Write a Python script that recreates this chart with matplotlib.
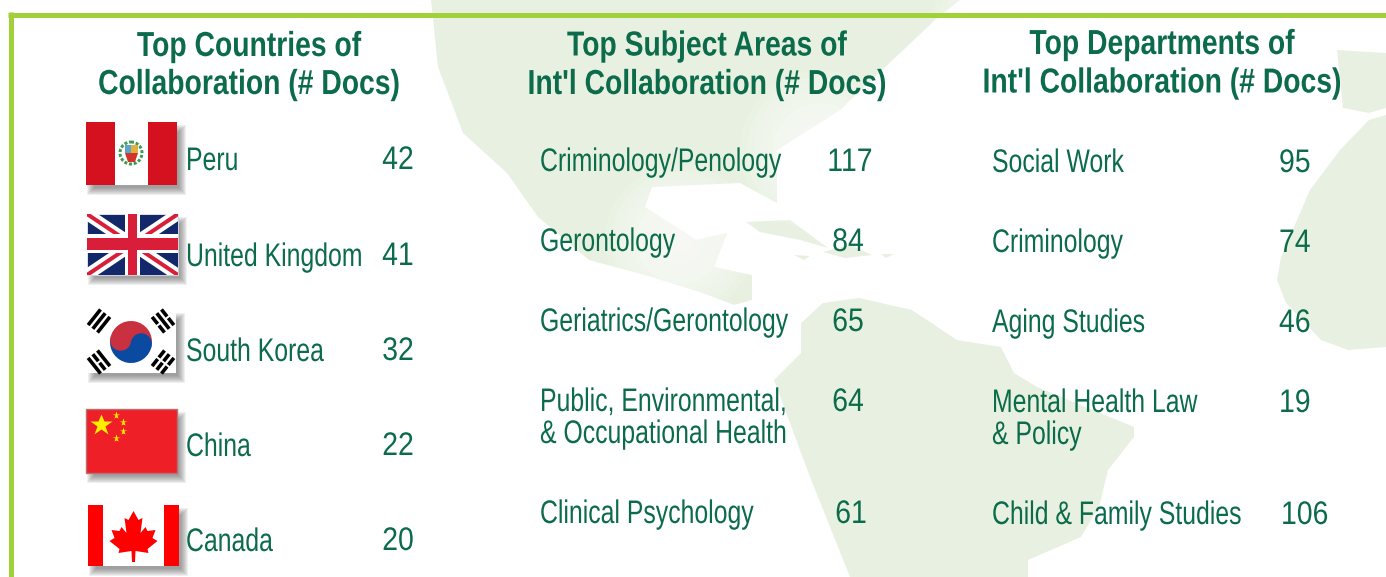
import matplotlib
matplotlib.use('Agg')
import matplotlib.pyplot as plt
from matplotlib.patches import Rectangle, Polygon, Circle, Wedge, Ellipse
from matplotlib.patheffects import AbstractPathEffect
from matplotlib.text import Text
from matplotlib.transforms import Affine2D

# chart text and values
title_1 = ["Top Countries of", "Collaboration (# Docs)"]
title_2 = ["Top Subject Areas of", "Int'l Collaboration (# Docs)"]
title_3 = ["Top Departments of", "Int'l Collaboration (# Docs)"]

countries = ["Peru", "United Kingdom", "South Korea", "China", "Canada"]
country_docs = [42, 41, 32, 22, 20]

subjects = ["Criminology/Penology", "Gerontology", "Geriatrics/Gerontology",
            "Public, Environmental,\n& Occupational Health", "Clinical Psychology"]
subject_docs = [117, 84, 65, 64, 61]

departments = ["Social Work", "Criminology", "Aging Studies",
               "Mental Health Law\n& Policy", "Child & Family Studies"]
department_docs = [95, 74, 46, 19, 106]

GREEN = '#0b6b4a'
LIME = '#a2d039'
PALE = '#e8f1e1'
FONT = 'Liberation Sans'

fig = plt.figure(figsize=(13.86, 5.77), dpi=100)
ax = fig.add_axes([0, 0, 1, 1])
ax.set_xlim(0, 1386)
ax.set_ylim(577, 0)
ax.axis('off')


def px(n):
    # pixels to points at dpi 100
    return n * 0.72


# no condensed font is installed, so squeeze the glyphs sideways about the anchor
class Squeeze(AbstractPathEffect):
    def __init__(self, sx, x0):
        super().__init__()
        self.squash = Affine2D().translate(-x0, 0).scale(sx, 1).translate(x0, 0)

    def draw_path(self, renderer, gc, tpath, affine, rgbFace=None):
        renderer.draw_path(gc, tpath, affine + self.squash, rgbFace)


class NarrowText(Text):
    def __init__(self, x, y, s, sx, **kw):
        super().__init__(x, y, s, **kw)
        self.sx = sx
        self.set_path_effects([Squeeze(sx, x)])

    def get_window_extent(self, renderer=None, dpi=None):
        box = super().get_window_extent(renderer, dpi)
        x0 = self.get_position()[0]
        return box.from_extents(x0 + (box.x0 - x0) * self.sx, box.y0, x0 + (box.x1 - x0) * self.sx, box.y1)


def glow(x, y, r, color='white', steps=12, alpha=0.12, z=0.5):
    for i in range(steps):
        ax.add_patch(Circle((x, y), r * (1 - i / steps), fc=color, ec='none', alpha=alpha, zorder=z))


def shadow(x0, y0, x1, y1):
    for i in range(8):
        ax.add_patch(Rectangle((x0 + 1 + i, y0 + 3 + i), x1 - x0 + 8 - 2 * i, y1 - y0 + 7 - 2 * i,
                               fc='#505050', ec='none', alpha=0.09, zorder=2))


# background map
north_america = [(431, 0), (438, 67), (463, 133), (507, 173), (538, 217), (589, 260), (652, 277),
                 (700, 292), (734, 305), (752, 300), (752, 275), (714, 267), (727, 233), (696, 240),
                 (645, 207), (652, 187), (740, 183), (777, 203), (777, 150), (840, 110), (935, 20),
                 (960, 0)]
south_america = [(801, 323), (823, 303), (859, 298), (912, 310), (957, 340), (1001, 347), (1014, 373),
                 (1037, 387), (1134, 427), (1134, 437), (1108, 470), (1099, 507), (1081, 537),
                 (1028, 560), (1028, 577), (850, 577), (810, 477), (774, 380), (801, 353)]
africa = [(1386, 115), (1369, 120), (1340, 150), (1310, 190), (1281, 257), (1277, 280), (1286, 303),
          (1321, 340), (1348, 350), (1386, 347)]
europe = [(1337, 50), (1386, 53), (1386, 108), (1369, 113), (1343, 108)]
cuba = [(746, 222), (790, 220), (828, 248), (800, 240), (760, 232)]
islands = [[(794, 255), (810, 256), (804, 260)], [(823, 252), (850, 245), (872, 255), (845, 258)],
           [(881, 254), (894, 254), (886, 258)]]
for shape in [north_america, south_america, africa, europe, cuba] + islands:
    ax.add_patch(Polygon(shape, fc=PALE, ec='none', zorder=0))
glow(680, 240, 75)
glow(820, 150, 80)
glow(1000, 30, 70)

# frame
ax.plot([8, 1386], [14.5, 14.5], color=LIME, lw=px(5), solid_capstyle='butt', zorder=1)
ax.plot([10.5, 10.5], [12, 577], color=LIME, lw=px(5), solid_capstyle='butt', zorder=1)


def write(x, y, s, size=23.5, sx=0.76, ha='left', weight='normal'):
    ax.add_artist(NarrowText(x, y, s, sx, color=GREEN, fontsize=size, ha=ha, va='baseline',
                             family=FONT, fontweight=weight, zorder=5))


# titles
for lines, x, ys in [(title_1, 249, (56, 94)), (title_2, 707, (55.5, 94)), (title_3, 1162, (54, 92.5))]:
    for line, y in zip(lines, ys):
        write(x, y, line, size=25, sx=0.815, ha='center', weight='bold')

# columns
for name, val, y in zip(countries, country_docs, [170, 266, 361, 456, 551]):
    write(186, y, name)
    write(398, y - 1, str(val), sx=0.87, ha='center')

for name, val, y, x in zip(subjects, subject_docs, [171, 251, 331, 411, 523], [850, 848, 848, 848, 851]):
    for i, line in enumerate(name.split('\n')):
        write(540, y + i * 32, line)
    write(x, y, str(val), sx=0.87, ha='center')

for name, val, y, x in zip(departments, department_docs, [172, 252, 332, 412, 524], [1279, 1279, 1279, 1279, 1281]):
    for i, line in enumerate(name.split('\n')):
        write(992, y + i * 32, line)
    write(x, y, str(val), sx=0.87)

# Peru flag
shadow(86, 122, 177, 185)
ax.add_patch(Rectangle((86, 122), 91, 63, fc='#d5101f', ec='none', zorder=3))
ax.add_patch(Rectangle((115, 122), 33, 63, fc='white', ec='none', zorder=3))
ax.add_patch(Ellipse((131, 153), 22, 22, fc='none', ec='#3f9a58', lw=px(3), ls=(0, (1, 0.6)), zorder=4))
ax.add_patch(Rectangle((125, 145), 6, 8, fc='#5aa5c8', ec='none', zorder=4))
ax.add_patch(Rectangle((131, 145), 7, 8, fc='#e0b040', ec='none', zorder=4))
ax.add_patch(Polygon([(125, 153), (138, 153), (135, 162), (128, 162)], fc='#d0352a', ec='none', zorder=4))

# UK flag
shadow(87, 214, 178, 275)
uk = Rectangle((87, 214), 91, 61, fc='#12286b', ec='white', lw=0.5, zorder=3)
ax.add_patch(uk)
for c, w in [('white', 12), ('#d81e38', 4)]:
    for seg in [([87, 178], [214, 275]), ([87, 178], [275, 214])]:
        l, = ax.plot(seg[0], seg[1], color=c, lw=px(w), solid_capstyle='butt', zorder=3)
        l.set_clip_path(uk)
ax.add_patch(Rectangle((87, 234), 91, 19, fc='white', ec='none', zorder=3))
ax.add_patch(Rectangle((125, 214), 15, 61, fc='white', ec='none', zorder=3))
ax.add_patch(Rectangle((87, 238), 91, 12, fc='#d81e38', ec='none', zorder=3))
ax.add_patch(Rectangle((128, 214), 9, 61, fc='#d81e38', ec='none', zorder=3))

# South Korea flag
shadow(87, 310, 176, 373)
ax.add_patch(Rectangle((87, 310), 89, 63, fc='white', ec='none', zorder=3))
ax.add_patch(Wedge((131, 342), 21, 190, 370, fc='#c93040', ec='none', zorder=3))
ax.add_patch(Wedge((131, 342), 21, 10, 190, fc='#0a4aa0', ec='none', zorder=3))
ax.add_patch(Circle((120.7, 340.2), 10.5, fc='#c93040', ec='none', zorder=3))
ax.add_patch(Circle((141.3, 343.8), 10.5, fc='#0a4aa0', ec='none', zorder=3))
# trigrams: centre x, centre y, direction of bars, which bars are broken
for cx, cy, d, broken in [(99, 321, (0.62, -0.78), (0, 0, 0)), (163, 321, (0.62, 0.78), (1, 0, 1)),
                          (99, 362, (0.62, 0.78), (0, 1, 0)), (163, 362, (0.62, -0.78), (1, 1, 1))]:
    n = (d[1], -d[0])
    for k, b in zip((-6, 0, 6), broken):
        mx, my = cx + n[0] * k, cy + n[1] * k
        parts = [(-10, -1), (1, 10)] if b else [(-10, 10)]
        for a, e in parts:
            ax.plot([mx + d[0] * a, mx + d[0] * e], [my + d[1] * a, my + d[1] * e],
                    color='black', lw=px(3.6), solid_capstyle='butt', zorder=4)

# China flag
shadow(86, 409, 177, 473)
ax.add_patch(Rectangle((86, 409), 91, 64, fc='#ef1f28', ec='#b87070', lw=1, zorder=3))
ax.plot([101], [425], marker='*', ms=px(23), color='#ffee00', mec='none', zorder=4)
for sx_, sy in [(116, 415), (123, 422), (123, 431), (116, 438)]:
    ax.plot([sx_], [sy], marker='*', ms=px(8), color='#ffee00', mec='none', zorder=4)

# Canada flag
shadow(88, 505, 179, 566)
ax.add_patch(Rectangle((88, 505), 91, 61, fc='white', ec='none', zorder=3))
ax.add_patch(Rectangle((88, 505), 15, 61, fc='#ff0000', ec='none', zorder=3))
ax.add_patch(Rectangle((164, 505), 15, 61, fc='#ff0000', ec='none', zorder=3))
half = [(0, 511), (5, 520), (9, 518), (7, 533), (12, 527), (14, 531), (22, 530), (19, 538), (24, 541),
        (14, 549), (15, 553), (2, 551), (1.5, 562)]
leaf = [(133.5 + a, b) for a, b in half] + [(133.5 - a, b) for a, b in half[::-1]]
ax.add_patch(Polygon(leaf, fc='#ff0000', ec='none', zorder=4))

fig.savefig('out.png', dpi=100)
